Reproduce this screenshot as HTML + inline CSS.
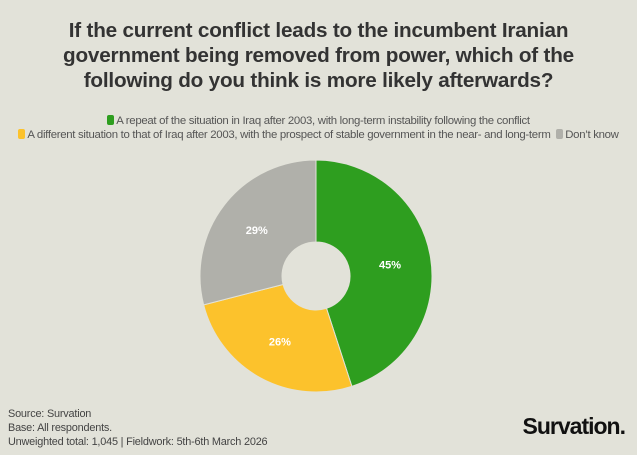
<!DOCTYPE html>
<html><head><meta charset="utf-8"><style>
body{margin:0;width:637px;height:455px;background:#e2e2d9;font-family:"Liberation Sans",sans-serif;overflow:hidden;position:relative}
#title{position:absolute;top:18px;left:0;width:637px;text-align:center;font-weight:bold;font-size:20.7px;line-height:25px;color:#333;letter-spacing:-0.2px}
.leg{position:absolute;width:637px;text-align:center;font-size:11.4px;color:#555;letter-spacing:-0.3px}
.sw{display:inline-block;width:7px;height:10px;border-radius:2px;vertical-align:-1px;margin-right:2px}
.foot{position:absolute;left:8px;font-size:10.9px;color:#444;letter-spacing:-0.2px}
#logo{position:absolute;right:12px;top:413px;font-weight:bold;font-size:23px;letter-spacing:-1px;color:#111}
</style></head><body>
<div id="title">If the current conflict leads to the incumbent Iranian<br>government being removed from power, which of the<br>following do you think is more likely afterwards?</div>
<div class="leg" style="top:115px"><span><span class="sw" style="background:#2e9e1f"></span>A repeat of the situation in Iraq after 2003, with long-term instability following the conflict</span></div>
<div class="leg" style="top:129px"><span><span class="sw" style="background:#fcc22c"></span>A different situation to that of Iraq after 2003, with the prospect of stable government in the near- and long-term</span> &nbsp;<span><span class="sw" style="background:#b0b0aa"></span>Don’t know</span></div>
<svg id="pie" width="637" height="455" style="position:absolute;left:0;top:0"></svg>
<div class="foot" style="top:408px">Source: Survation</div>
<div class="foot" style="top:422px">Base: All respondents.</div>
<div class="foot" style="top:436px">Unweighted total: 1,045 | Fieldwork: 5th-6th March 2026</div>
<div id="logo">Survation.</div>
<script>
const categories=["Repeat of Iraq","Different situation","Don't know"];
const values=[45,26,29];
const colors=["#2e9e1f","#fcc22c","#b0b0aa"];
const svg=document.getElementById('pie');const NS="http://www.w3.org/2000/svg";
const cx=316,cy=276,R=116,r=34;
const total=values.reduce((a,b)=>a+b,0);
let a0=-Math.PI/2;
function pt(rad,a){return [cx+rad*Math.cos(a),cy+rad*Math.sin(a)];}
values.forEach((v,i)=>{
 const a1=a0+v/total*2*Math.PI;const lg=(a1-a0)>Math.PI?1:0;
 const p1=pt(R,a0),p2=pt(R,a1),p3=pt(r,a1),p4=pt(r,a0);
 const p=document.createElementNS(NS,'path');
 p.setAttribute('d',`M${p1}A${R},${R} 0 ${lg} 1 ${p2}L${p3}A${r},${r} 0 ${lg} 0 ${p4}Z`);
 p.setAttribute('fill',colors[i]);p.setAttribute('stroke','#e2e2d9');p.setAttribute('stroke-width','1');
 
 
 svg.appendChild(p);
 const m=(a0+a1)/2,lp=pt(75,m);
 const t=document.createElementNS(NS,'text');
 t.setAttribute('x',lp[0]);t.setAttribute('y',lp[1]+4);t.setAttribute('text-anchor','middle');
 t.setAttribute('font-size','11');t.setAttribute('font-weight','bold');t.setAttribute('fill','#fff');
 t.setAttribute('font-family','Liberation Sans, sans-serif');
 t.textContent=v+'%';
 
 
 svg.appendChild(t);
 a0=a1;
});
</script>
</body></html>
